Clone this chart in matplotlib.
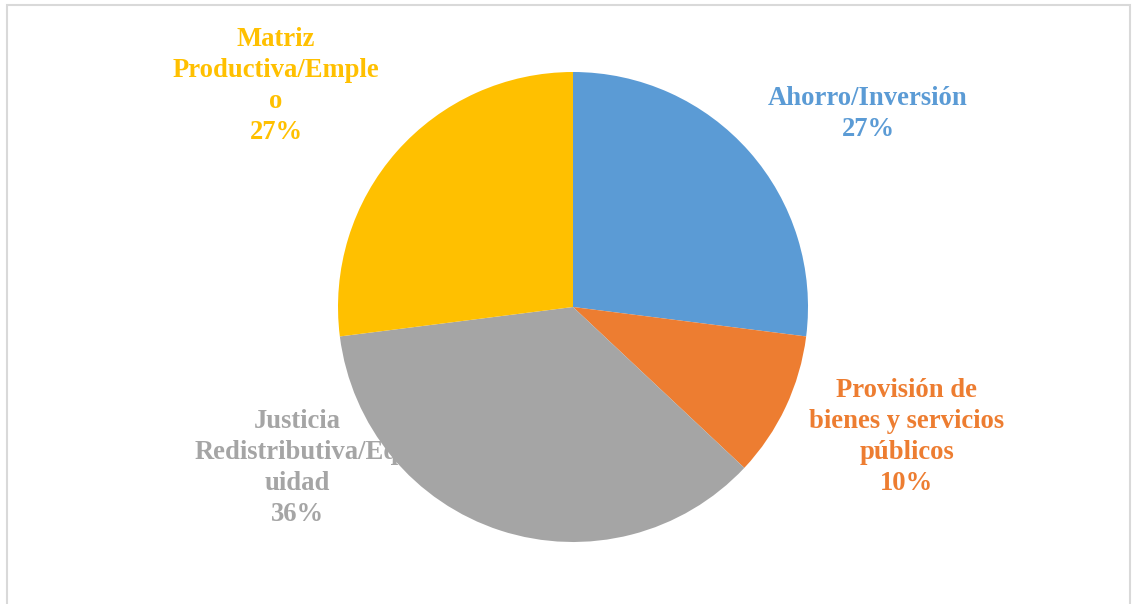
import matplotlib.pyplot as plt
from matplotlib.patches import Rectangle

# Datos
categorias = ['Ahorro/Inversión', 'Provisión de bienes y servicios públicos',
              'Justicia Redistributiva/Equidad', 'Matriz Productiva/Empleo']
valores = [27, 10, 36, 27]
etiquetas = ['Ahorro/Inversión\n27%',
             'Provisión de\nbienes y servicios\npúblicos\n10%',
             'Justicia\nRedistributiva/Eq\nuidad\n36%',
             'Matriz\nProductiva/Emple\no\n27%']
colores = ['#5B9BD5', '#ED7D31', '#A5A5A5', '#FFC000']

# posiciones de las etiquetas (pixeles de la imagen)
pos_etiquetas = [(868, 114), (907, 437), (297, 468), (276, 86)]

W, H = 1137, 604
cx, cy, r = 573, 307, 235

fig = plt.figure(figsize=(W / 100, H / 100), dpi=100)
ax = fig.add_axes([0, 0, 1, 1])
ax.pie(valores, colors=colores, startangle=90, counterclock=False,
       radius=1, center=(0, 0), wedgeprops={'linewidth': 0, 'zorder': 2})
ax.set_xlim(-cx / r, (W - cx) / r)
ax.set_ylim(-(H - cy) / r, cy / r)
ax.set_aspect('equal')
ax.axis('off')

# las etiquetas quedan debajo de la torta (como en Excel)
for txt, (px, py), col in zip(etiquetas, pos_etiquetas, colores):
    ax.text((px - cx) / r, (cy - py) / r, txt, color=col, ha='center', va='center',
            fontsize=19.2, fontweight='bold', family='Liberation Serif',
            linespacing=1.3, zorder=1)

# borde del grafico
fig.patches.append(Rectangle((7 / W, -0.01), (1130 - 7) / W, (H - 5) / H + 0.01,
                             transform=fig.transFigure, fill=False,
                             edgecolor='#D9D9D9', linewidth=1.5))

fig.savefig('out.png', dpi=100)
